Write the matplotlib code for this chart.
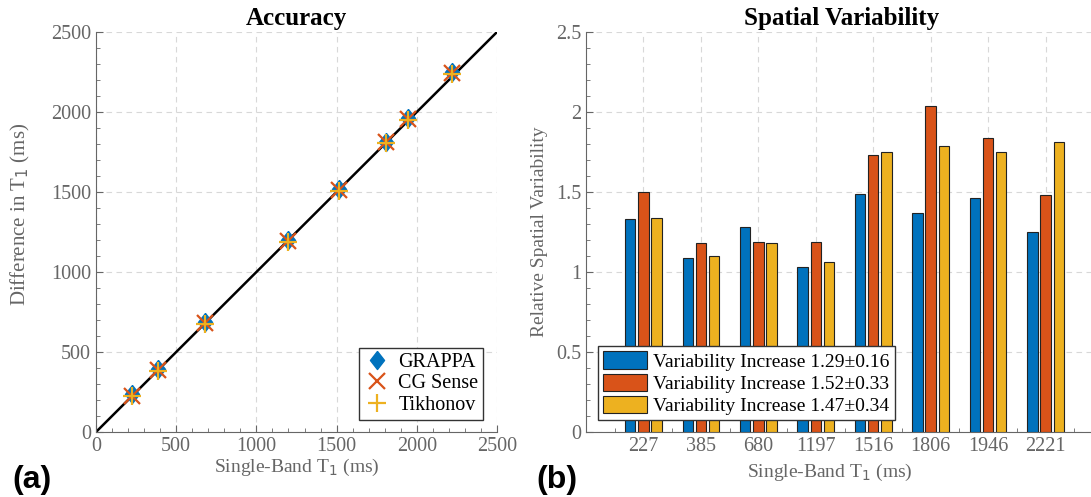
import numpy as np
import matplotlib.pyplot as plt
from matplotlib.ticker import MultipleLocator

plt.rcParams['font.family'] = ['Liberation Serif', 'DejaVu Serif']

# Data
t1_single = [227, 385, 680, 1197, 1516, 1806, 1946, 2221]
t1_grappa = [235, 392, 690, 1198, 1518, 1815, 1965, 2250]
t1_cgsense = [228, 386, 682, 1192, 1512, 1810, 1958, 2242]
t1_tikhonov = [224, 382, 676, 1188, 1506, 1806, 1952, 2236]

tick_labels = ['227', '385', '680', '1197', '1516', '1806', '1946', '2221']
var_grappa = [1.33, 1.09, 1.28, 1.03, 1.49, 1.37, 1.46, 1.25]
var_cgsense = [1.50, 1.18, 1.19, 1.19, 1.73, 2.04, 1.84, 1.48]
var_tikhonov = [1.34, 1.10, 1.18, 1.06, 1.75, 1.79, 1.75, 1.81]
legend_b = ['Variability Increase 1.29\u00b10.16',
            'Variability Increase 1.52\u00b10.33',
            'Variability Increase 1.47\u00b10.34']

blue, red, yellow = '#0072BD', '#D95319', '#EDB120'
gray = '#666666'
# MATLAB-style diamond, a bit taller than wide
diamond = [(0, 1), (0.78, 0), (0, -1), (-0.78, 0), (0, 1)]

fig = plt.figure(figsize=(10.91, 4.97), dpi=100)
ax1 = fig.add_axes([96 / 1091, 1 - 432 / 497, 401 / 1091, 400 / 497])
ax2 = fig.add_axes([586 / 1091, 1 - 432 / 497, 517 / 1091, 400 / 497])


def style(ax):
    for s in ['top', 'right']:
        ax.spines[s].set_visible(False)
    for s in ['left', 'bottom']:
        ax.spines[s].set_color(gray)
    ax.tick_params(which='both', direction='in', colors=gray, labelsize=14.5)
    ax.tick_params(which='major', length=5)
    ax.tick_params(which='minor', length=3)
    ax.grid(True, linestyle=(0, (5, 4)), color='#d8d8d8', linewidth=0.8)
    ax.set_axisbelow(True)


# (a) Accuracy
style(ax1)
ax1.plot([0, 2500], [0, 2500], color='black', linewidth=1.8, zorder=2)
ax1.plot(t1_single, t1_grappa, marker=diamond, linestyle='none', color=blue,
         markersize=13, markeredgecolor=blue, label='GRAPPA', zorder=3)
ax1.plot(t1_single, t1_cgsense, 'x', color=red, markersize=11,
         markeredgewidth=1.6, label='CG Sense', zorder=4)
ax1.plot(t1_single, t1_tikhonov, '+', color=yellow, markersize=13,
         markeredgewidth=1.6, label='Tikhonov', zorder=5)
ax1.set_xlim(0, 2500)
ax1.set_ylim(0, 2500)
ax1.xaxis.set_major_locator(MultipleLocator(500))
ax1.yaxis.set_major_locator(MultipleLocator(500))
ax1.xaxis.set_minor_locator(MultipleLocator(100))
ax1.yaxis.set_minor_locator(MultipleLocator(100))
ax1.set_title('Accuracy', fontsize=18, fontweight='bold', pad=5)
ax1.set_xlabel('Single-Band T$_1$ (ms)', fontsize=14, color=gray, labelpad=1)
ax1.set_ylabel('Difference in T$_1$ (ms)', fontsize=15, color=gray)
ax1.yaxis.set_label_coords(-0.16, 0.545)
leg1 = ax1.legend(loc='lower right', bbox_to_anchor=(0.966, 0.03), fontsize=14.5,
                  fancybox=False, framealpha=1, edgecolor='#333333',
                  handletextpad=0.4, borderpad=0.25, labelspacing=0.12,
                  handlelength=1.3, borderaxespad=0)
leg1.get_frame().set_linewidth(1.0)

# (b) Spatial Variability
style(ax2)
x = np.arange(1, len(tick_labels) + 1)
w = 0.18
off = 0.23
for vals, c, off_i, lab in [(var_grappa, blue, -off, legend_b[0]),
                            (var_cgsense, red, 0, legend_b[1]),
                            (var_tikhonov, yellow, off, legend_b[2])]:
    ax2.bar(x + off_i, vals, width=w, color=c, edgecolor='#222222',
            linewidth=0.8, label=lab, zorder=3)
ax2.set_xlim(0, 9)
ax2.set_ylim(0, 2.5)
ax2.set_xticks(x)
ax2.set_xticklabels(tick_labels)
ax2.set_xticks(np.arange(0.5, 9, 1), minor=True)
ax2.yaxis.set_minor_locator(MultipleLocator(0.1))
ax2.set_yticks([0, 0.5, 1, 1.5, 2, 2.5])
ax2.set_yticklabels(['0', '0.5', '1', '1.5', '2', '2.5'])
ax2.set_title('Spatial Variability', fontsize=18, fontweight='bold', pad=5)
# centre the title over the visible part of the axes
ax2.title.set_x((1091 - 586) / 2 / 517 + 0.005)
ax2.set_xlabel('Single-Band T$_1$ (ms)', fontsize=14, color=gray, labelpad=1)
ax2.xaxis.set_label_coords(0.472, -0.075)
ax2.set_ylabel('Relative Spatial Variability', fontsize=14, color=gray, labelpad=6)
leg2 = ax2.legend(loc='lower left', bbox_to_anchor=(0.023, 0.03), fontsize=14,
                  fancybox=False, framealpha=1, edgecolor='#333333',
                  handletextpad=0.3, borderpad=0.25, labelspacing=0.15,
                  handlelength=2.3, handleheight=1.0, borderaxespad=0)
leg2.get_frame().set_linewidth(1.0)

# panel labels
fig.text(12 / 1091, 1 - 488 / 497, '(a)', fontsize=23, fontweight='bold',
         family=['Liberation Sans', 'DejaVu Sans'])
fig.text(536 / 1091, 1 - 488 / 497, '(b)', fontsize=23, fontweight='bold',
         family=['Liberation Sans', 'DejaVu Sans'])

fig.savefig('out.png', dpi=100)
